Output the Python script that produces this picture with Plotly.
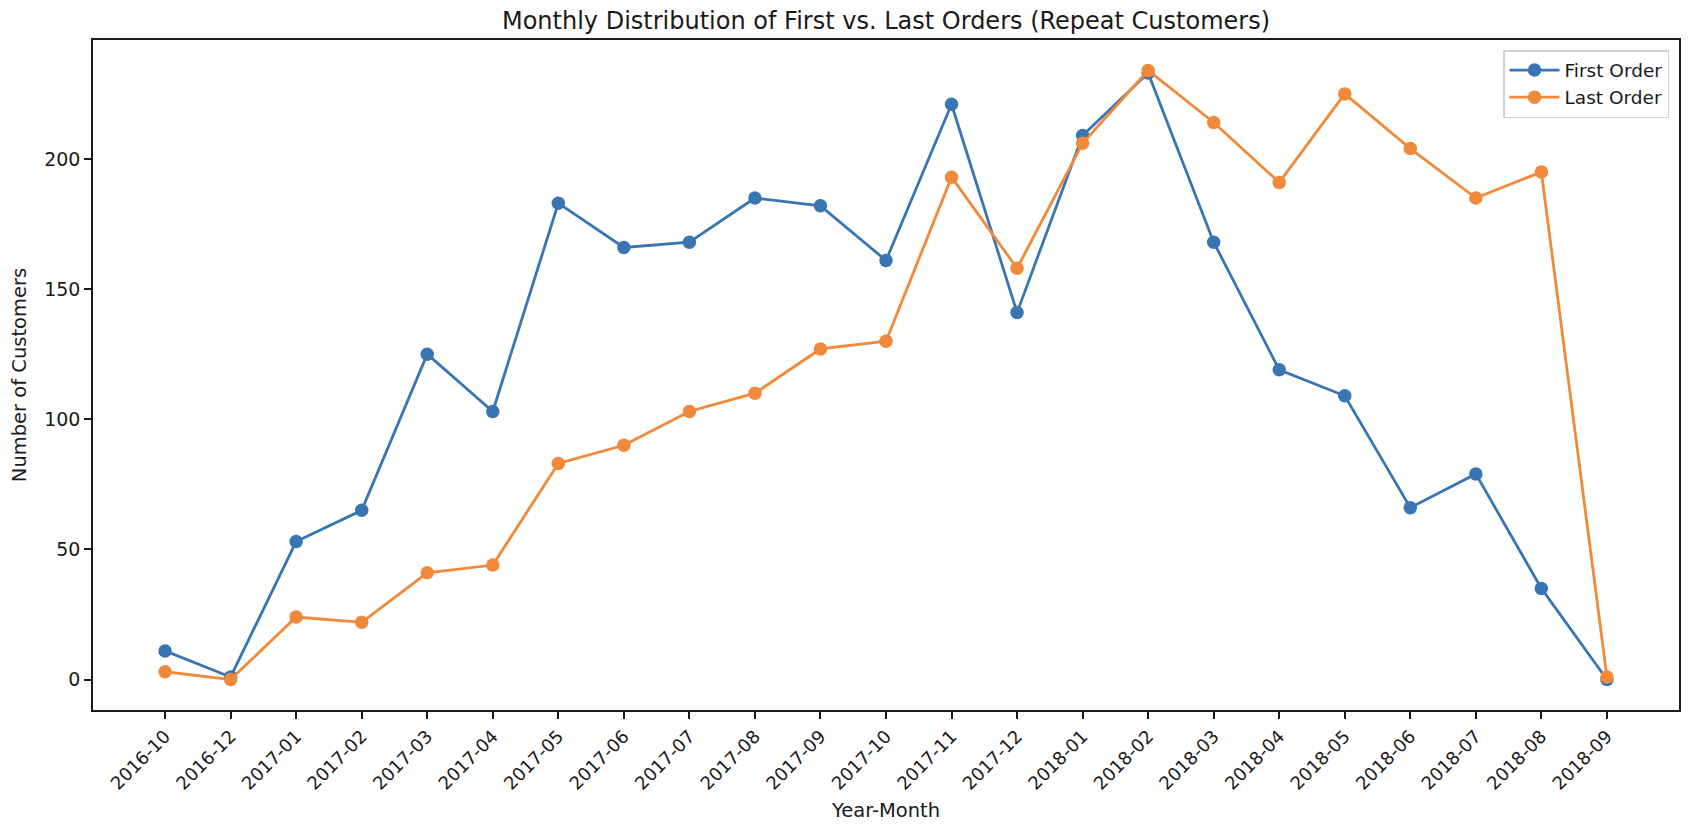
import plotly.graph_objects as go

months = ["2016-10", "2016-12", "2017-01", "2017-02", "2017-03", "2017-04", "2017-05",
          "2017-06", "2017-07", "2017-08", "2017-09", "2017-10", "2017-11", "2017-12",
          "2018-01", "2018-02", "2018-03", "2018-04", "2018-05", "2018-06", "2018-07",
          "2018-08", "2018-09"]
first_order = [11, 1, 53, 65, 125, 103, 183, 166, 168, 185, 182, 161, 221, 141,
               209, 233, 168, 119, 109, 66, 79, 35, 0]
last_order = [3, 0, 24, 22, 41, 44, 83, 90, 103, 110, 127, 130, 193, 158,
              206, 234, 214, 191, 225, 204, 185, 195, 1]
y_ticks = [0, 50, 100, 150, 200]

BLUE = "#3a75b3"
ORANGE = "#f1893a"
FONT = "DejaVu Sans"
TXT = "#1a1a1a"

# page body has an 8px default margin; size figure to fit the 1700x834 window
W, H = 1684, 818

fig = go.Figure()
fig.add_trace(go.Scatter(x=months, y=first_order, mode="lines+markers", name="First Order",
                         line=dict(color=BLUE, width=2.8),
                         marker=dict(color=BLUE, size=13.5)))
fig.add_trace(go.Scatter(x=months, y=last_order, mode="lines+markers", name="Last Order",
                         line=dict(color=ORANGE, width=2.8),
                         marker=dict(color=ORANGE, size=13.5)))

ymax = max(max(first_order), max(last_order))
pad = ymax * 0.05
n = len(months)

fig.update_layout(
    width=W, height=H,
    margin=dict(l=85, r=13, t=32, b=116),
    paper_bgcolor="white", plot_bgcolor="white",
    font=dict(family=FONT, size=19, color=TXT),
    title=dict(text="Monthly Distribution of First vs. Last Orders (Repeat Customers)",
               x=0.5, xanchor="center", xref="paper",
               y=1 - 13 / H, yref="container", yanchor="middle",
               font=dict(size=24, color=TXT)),
    showlegend=True,
    legend=dict(x=0.9937, y=0.985, xanchor="right", yanchor="top",
                bgcolor="rgba(255,255,255,0.8)", bordercolor="#d0d0d0", borderwidth=1.5,
                font=dict(size=18.5, color=TXT), tracegroupgap=2, itemwidth=50),
)
fig.update_xaxes(
    type="category", range=[-0.05 * (n - 1), (n - 1) * 1.05], automargin=False,
    tickangle=-45, ticks="outside", ticklen=7, tickwidth=1.6, tickcolor=TXT,
    showline=True, linecolor=TXT, linewidth=1.6, mirror=True, showgrid=False,
    tickfont=dict(size=18, color=TXT),
    title=dict(text="Year-Month", font=dict(size=19.5, color=TXT), standoff=11),
)
fig.update_yaxes(
    range=[-pad, ymax + pad], tickvals=y_ticks, ticktext=[str(v) for v in y_ticks],
    automargin=False,
    ticks="outside", ticklen=7, tickwidth=1.6, tickcolor=TXT,
    showline=True, linecolor=TXT, linewidth=1.6, mirror=True, showgrid=False,
    zeroline=False, tickfont=dict(size=19, color=TXT),
    title=dict(text="Number of Customers", font=dict(size=19.5, color=TXT), standoff=14),
)

fig.write_html("out.html")
